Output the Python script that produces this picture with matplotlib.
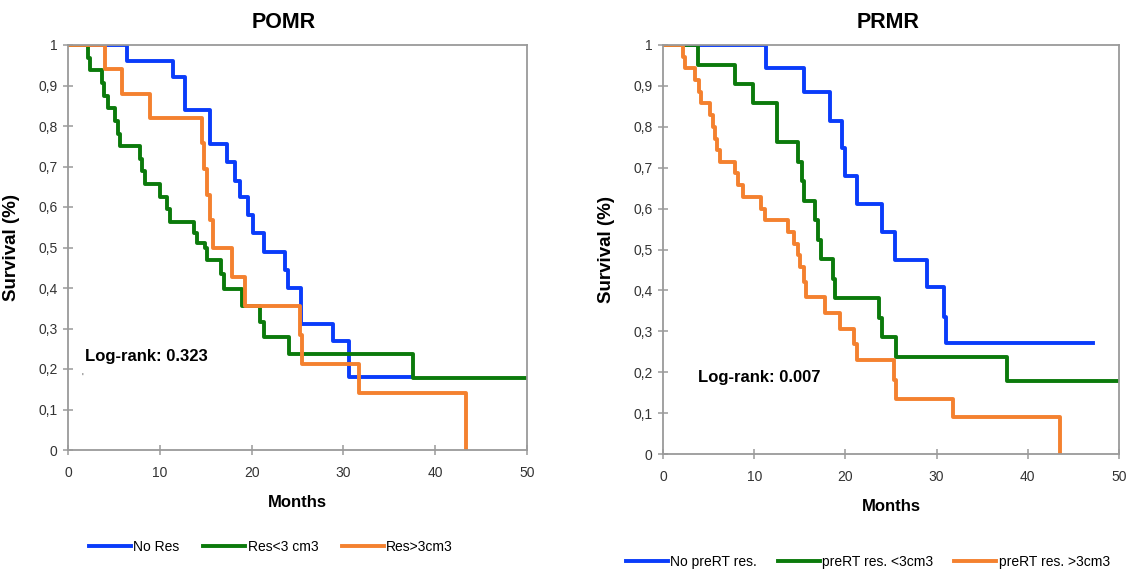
import matplotlib
matplotlib.use('Agg')
import matplotlib.pyplot as plt
from matplotlib.ticker import FuncFormatter

# POMR (left) - months at each drop, survival after drop
pomr_nores_t = [0, 6.4, 11.4, 12.7, 15.5, 17.3, 18.2, 18.7, 19.6, 20.1, 21.3, 23.6, 24.0, 25.4, 28.9, 30.6, 37.4]
pomr_nores_s = [1, 0.96, 0.92, 0.84, 0.755, 0.71, 0.665, 0.625, 0.58, 0.535, 0.49, 0.445, 0.40, 0.31, 0.27, 0.18, 0.18]

pomr_small_t = [0, 2.2, 2.4, 3.7, 3.9, 4.4, 5.1, 5.5, 5.7, 7.8, 8.1, 8.4, 10.0, 10.8, 11.1, 13.7, 14.0, 14.9,
                15.1, 16.7, 17.0, 19.0, 20.9, 21.3, 24.1, 37.6, 50]
pomr_small_s = [1, 0.969, 0.938, 0.906, 0.875, 0.844, 0.813, 0.781, 0.75, 0.719, 0.688, 0.656, 0.625, 0.594,
                0.5625, 0.535, 0.51, 0.50, 0.469, 0.435, 0.397, 0.355, 0.317, 0.28, 0.237, 0.177, 0.177]

pomr_large_t = [0, 4.0, 5.9, 8.9, 14.6, 14.8, 15.1, 15.5, 15.8, 17.9, 19.3, 25.3, 25.5, 31.7, 43.4]
pomr_large_s = [1, 0.94, 0.88, 0.82, 0.757, 0.695, 0.63, 0.568, 0.50, 0.426, 0.356, 0.285, 0.212, 0.14, 0.0]

# PRMR (right)
prmr_nores_t = [0, 11.3, 15.5, 18.3, 19.6, 20.0, 21.3, 24.0, 25.4, 28.95, 30.8, 31.0, 47.15]
prmr_nores_s = [1, 0.943, 0.884, 0.815, 0.747, 0.68, 0.612, 0.543, 0.475, 0.408, 0.335, 0.271, 0.271]

prmr_small_t = [0, 3.8, 7.9, 9.9, 12.5, 14.8, 15.2, 15.5, 16.7, 17.0, 17.3, 18.6, 18.9, 23.7, 24.0, 25.6, 37.7, 50]
prmr_small_s = [1, 0.952, 0.905, 0.857, 0.762, 0.714, 0.667, 0.619, 0.571, 0.524, 0.476, 0.429, 0.381,
                0.333, 0.286, 0.238, 0.178, 0.178]

prmr_large_t = [0, 2.2, 2.4, 3.5, 4.0, 4.2, 5.1, 5.5, 5.7, 5.9, 6.2, 7.9, 8.2, 8.8, 10.7, 11.2, 13.7, 14.4,
                14.8, 15.0, 15.5, 15.7, 17.8, 19.4, 20.9, 21.3, 25.3, 25.5, 31.8, 43.5]
prmr_large_s = [1, 0.971, 0.943, 0.914, 0.886, 0.857, 0.829, 0.80, 0.771, 0.743, 0.714, 0.686, 0.657, 0.629,
                0.60, 0.571, 0.543, 0.514, 0.486, 0.457, 0.42, 0.385, 0.345, 0.305, 0.27, 0.23, 0.18, 0.135,
                0.09, 0.0]

blue = '#0A3CFA'
green = '#0B7A0B'
orange = '#F4812F'
gray = '#9A9A9A'

plt.rcParams['font.family'] = ['Liberation Sans', 'DejaVu Sans']

fig = plt.figure(figsize=(11.29, 5.71), dpi=100)
ax1 = fig.add_axes([68 / 1129, 1 - 450 / 571, 459 / 1129, 405 / 571])
ax2 = fig.add_axes([663 / 1129, 1 - 454 / 571, 456 / 1129, 409 / 571])

lw = 2.8
h1 = ax1.step(pomr_nores_t, pomr_nores_s, where='post', color=blue, lw=lw, label='No Res')[0]
h2 = ax1.step(pomr_small_t, pomr_small_s, where='post', color=green, lw=lw, label='Res<3 cm3')[0]
h3 = ax1.step(pomr_large_t, pomr_large_s, where='post', color=orange, lw=lw, label='Res>3cm3')[0]

g1 = ax2.step(prmr_nores_t, prmr_nores_s, where='post', color=blue, lw=lw, label='No preRT res.')[0]
g2 = ax2.step(prmr_small_t, prmr_small_s, where='post', color=green, lw=lw, label='preRT res. <3cm3')[0]
g3 = ax2.step(prmr_large_t, prmr_large_s, where='post', color=orange, lw=lw, label='preRT res. >3cm3')[0]


def comma(v, pos):
    if abs(v) < 1e-9:
        return '0'
    if abs(v - 1) < 1e-9:
        return '1'
    return ('%.1f' % v).replace('.', ',')


for ax in (ax1, ax2):
    ax.set_xlim(0, 50)
    ax.set_ylim(0, 1)
    ax.set_xticks([0, 10, 20, 30, 40, 50])
    ax.set_yticks([i / 10 for i in range(11)])
    ax.yaxis.set_major_formatter(FuncFormatter(comma))
    for sp in ax.spines.values():
        sp.set_color(gray)
        sp.set_linewidth(1.3)
    ax.tick_params(direction='inout', length=7, width=1.1, color=gray,
                   labelsize=10, labelcolor='#333333')
    ax.tick_params(axis='x', pad=8)
    ax.tick_params(axis='y', pad=4)
    ax.set_ylabel('Survival (%)', fontsize=13.5, fontweight='bold')
    ax.set_xlabel('Months', fontsize=12, fontweight='bold')
    ax.yaxis.set_label_coords(-0.105, 0.5)
    ax.xaxis.set_label_coords(0.5, -0.11)

fig.text(284 / 1129, 1 - 22 / 571, 'POMR', ha='center', va='center', fontsize=15.5, fontweight='bold')
fig.text(888 / 1129, 1 - 22 / 571, 'PRMR', ha='center', va='center', fontsize=15.5, fontweight='bold')

ax1.text(1.85, 0.23, 'Log-rank: 0.323', fontsize=12, fontweight='bold', va='center')
ax1.text(1.5, 0.178, "'", fontsize=7, color='#555555', va='center')
ax2.text(3.8, 0.187, 'Log-rank: 0.007', fontsize=12, fontweight='bold', va='center')

leg_font = {'size': 10}
fig.legend(handles=[h1, h2, h3], loc='center', bbox_to_anchor=(271 / 1129, 1 - 547 / 571),
           ncol=3, frameon=False, prop=leg_font, handlelength=3.0, handletextpad=0.2,
           columnspacing=1.7)
fig.legend(handles=[g1, g2, g3], loc='center', bbox_to_anchor=(868 / 1129, 1 - 562 / 571),
           ncol=3, frameon=False, prop=leg_font, handlelength=3.0, handletextpad=0.2,
           columnspacing=1.5)

fig.savefig('out.png', dpi=100)
